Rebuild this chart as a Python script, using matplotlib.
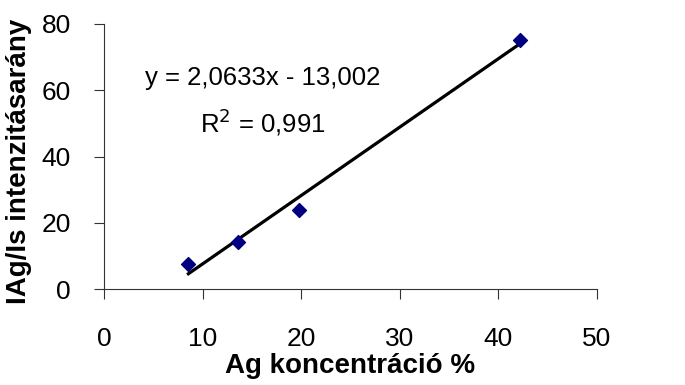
import numpy as np
import matplotlib
matplotlib.use("Agg")
import matplotlib.pyplot as plt

plt.rcParams['font.family'] = ['Liberation Sans', 'DejaVu Sans']

# Data
ag_conc = [8.55, 13.6, 19.75, 42.2]
intensity_ratio = [7.7, 14.2, 23.9, 75.2]
slope = 2.0633
intercept = -13.002
r2 = 0.991
x_ticks = [0, 10, 20, 30, 40, 50]
y_ticks = [0, 20, 40, 60, 80]

fig = plt.figure(figsize=(6.85, 3.85), dpi=100)
ax = fig.add_axes([0.152, 0.249, 0.7195, 0.6887])

ax.scatter(ag_conc, intensity_ratio, marker='D', s=50, color='#000080', zorder=3)
xl = np.array([min(ag_conc), max(ag_conc)])
ax.plot(xl, slope * xl + intercept, color='black', lw=2.3, zorder=2)

ax.set_xlim(0, 50)
ax.set_ylim(0, 80)
ax.set_xticks(x_ticks)
ax.set_yticks(y_ticks)
for s in ['top', 'right']:
    ax.spines[s].set_visible(False)
for s in ['left', 'bottom']:
    ax.spines[s].set_linewidth(0.8)
    ax.spines[s].set_color('#333333')
ax.tick_params(axis='both', direction='out', length=7, width=0.8, color='#333333', labelsize=19)
ax.tick_params(axis='x', pad=20)
ax.tick_params(axis='y', pad=17)

ax.set_xlabel('Ag koncentráció %', fontsize=20, fontweight='bold', labelpad=2)
ax.set_ylabel('IAg/Is intenzitásarány', fontsize=20, fontweight='bold')
ax.yaxis.set_label_coords(-0.146, 0.48)

eq = f"y = {slope:.4f}x - {abs(intercept):.3f}".replace('.', ',')
ax.text(16.1, 63.8, eq, fontsize=18.5, ha='center', va='center')
ax.text(16.1, 50.3, f"R$^2$ = {r2:.3f}".replace('.', ','), fontsize=18.5, ha='center', va='center')

fig.savefig('out.png', dpi=100)
